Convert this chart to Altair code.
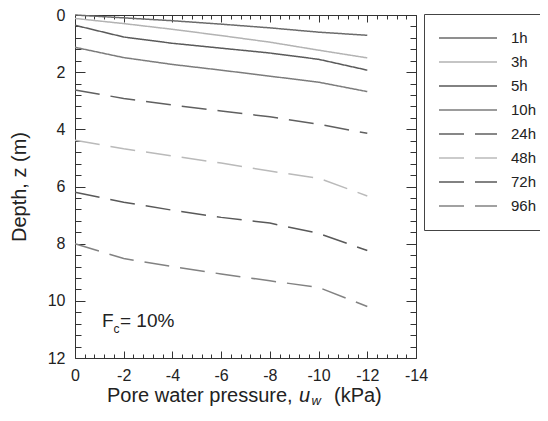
import altair as alt
import pandas as pd

# ---------------- data ----------------
pressure = [0, -2, -4, -6, -8, -10, -12]
series_names = ["1h", "3h", "5h", "10h", "24h", "48h", "72h", "96h"]
depth_1h = [0.00, 0.10, 0.20, 0.32, 0.45, 0.60, 0.71]
depth_3h = [0.12, 0.30, 0.50, 0.72, 0.95, 1.23, 1.50]
depth_5h = [0.36, 0.77, 0.99, 1.16, 1.33, 1.55, 1.93]
depth_10h = [1.13, 1.49, 1.73, 1.93, 2.14, 2.35, 2.68]
depth_24h = [2.62, 2.92, 3.15, 3.36, 3.56, 3.82, 4.14]
depth_48h = [4.38, 4.68, 4.93, 5.18, 5.46, 5.71, 6.33]
depth_72h = [6.20, 6.55, 6.83, 7.08, 7.28, 7.64, 8.24]
depth_96h = [8.00, 8.52, 8.80, 9.06, 9.30, 9.53, 10.20]
all_depths = [depth_1h, depth_3h, depth_5h, depth_10h,
              depth_24h, depth_48h, depth_72h, depth_96h]

x_major = [0, -2, -4, -6, -8, -10, -12, -14]
y_major = [0, 2, 4, 6, 8, 10, 12]
x_minor = [round(-0.4 * i, 1) for i in range(1, 35) if i % 5 != 0]
y_minor = [round(0.4 * i, 1) for i in range(1, 30) if i % 5 != 0]

# ---------------- styles ----------------
line_colors = ["#6b6b6b", "#b3b3b3", "#5a5a5a", "#7c7c7c",
               "#606060", "#bababa", "#595959", "#828282"]
line_dashes = [[1, 0]] * 4 + [[25, 11]] * 4
FONT = "Liberation Sans"
TXT = "#222222"
AXC = "#333333"

rows = []
for name, depths in zip(series_names, all_depths):
    for i, (u, z) in enumerate(zip(pressure, depths)):
        rows.append({"series": name, "u": u, "z": z, "idx": i})
df = pd.DataFrame(rows)

xscale = alt.Scale(domain=[0, -14], nice=False, zero=False)
yscale = alt.Scale(domain=[0, 12], nice=False, zero=False, reverse=True)

legend = alt.Legend(
    title=None, orient="none", legendX=349, legendY=-1,
    symbolType="stroke", symbolSize=3364, symbolStrokeWidth=1.5,
    clipHeight=20, rowPadding=4, padding=14, labelOffset=13,
    labelFontSize=15, labelFont=FONT, labelColor=TXT, labelLimit=300,
    strokeColor="#444444", fillColor="white",
)

label_x_axis = alt.Axis(
    orient="bottom", values=x_major, ticks=False, tickSize=0, domain=False,
    grid=False, labelPadding=9, labelFontSize=16, labelFlush=False,
    labelOverlap=False, labelExpr="replace(datum.label, '\u2212', '-')",
    title=None,
)
label_y_axis = alt.Axis(
    orient="left", values=y_major, ticks=False, tickSize=0, domain=False,
    grid=False, labelPadding=10, labelFontSize=16, labelOverlap=False,
    title="Depth, z (m)", titleFontSize=20, titleFontWeight="normal",
    titlePadding=18,
)

lines = alt.Chart(df).mark_line(strokeWidth=1.5).encode(
    x=alt.X("u:Q", scale=xscale, axis=label_x_axis),
    y=alt.Y("z:Q", scale=yscale, axis=label_y_axis),
    color=alt.Color("series:N", scale=alt.Scale(domain=series_names, range=line_colors), legend=legend),
    strokeDash=alt.StrokeDash("series:N", scale=alt.Scale(domain=series_names, range=line_dashes), legend=legend),
    order=alt.Order("idx:Q"),
)


def tick_axis(orient, values, size):
    return alt.Axis(orient=orient, values=values, ticks=True, tickSize=size,
                    offset=-size, labels=False, domain=False, grid=False,
                    title=None, tickColor=AXC, tickWidth=1)


def tick_layer(xo, xv, xs, yo, yv, ys):
    return alt.Chart(df).mark_point(opacity=0).encode(
        x=alt.X("u:Q", scale=xscale, axis=tick_axis(xo, xv, xs)),
        y=alt.Y("z:Q", scale=yscale, axis=tick_axis(yo, yv, ys)),
    )


t1 = tick_layer("bottom", x_major, 7, "left", y_major, 10)
t2 = tick_layer("bottom", x_minor, 4, "left", y_minor, 6)
t3 = tick_layer("top", x_major, 7, "right", y_major, 10)
t4 = tick_layer("top", x_minor, 4, "right", y_minor, 6)

one = pd.DataFrame({"a": [0]})


def txt(s, x, y, size, style="normal"):
    return alt.Chart(one).mark_text(
        text=s, align="left", baseline="alphabetic", fontSize=size,
        font=FONT, fontStyle=style, color=TXT,
    ).encode(x=alt.value(x), y=alt.value(y))


texts = [
    txt("Pore water pressure,", 32, 387, 20),
    txt("u", 224, 387, 20, "italic"),
    txt("w", 236.5, 390, 13, "italic"),
    txt("(kPa)", 259, 387, 20),
    txt("F", 27, 312, 19),
    txt("c", 38.5, 318, 12),
    txt("= 10%", 45, 312, 19),
]

chart = alt.layer(lines, t1, t2, t3, t4, *texts).resolve_axis(
    x="independent", y="independent"
).properties(
    width=341, height=343,
    autosize=alt.AutoSizeParams(type="none"),
    padding={"left": 67, "top": 7, "right": 124, "bottom": 50},
).configure_view(
    stroke=AXC, strokeWidth=1
).configure_axis(
    labelFont=FONT, titleFont=FONT, labelColor=TXT, titleColor=TXT
)

chart.save("out.html", embed_options={"renderer": "svg", "actions": False})
